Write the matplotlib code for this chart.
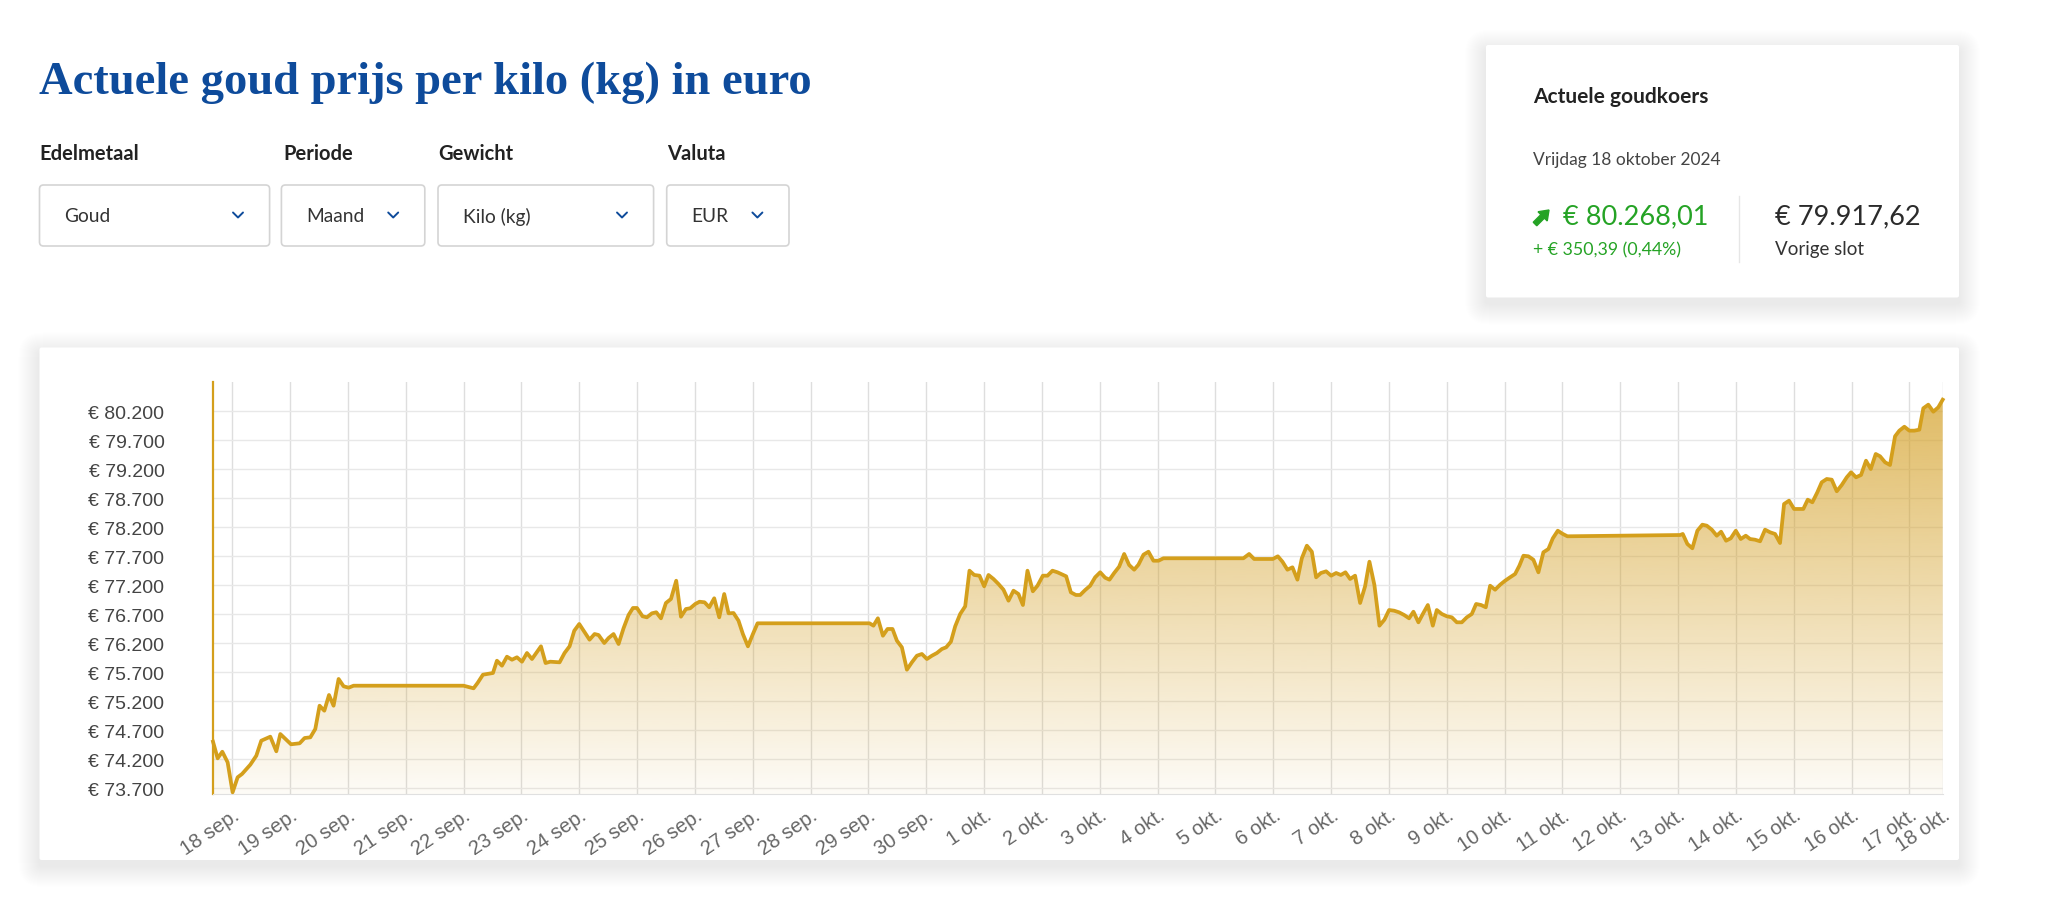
import numpy as np
import matplotlib
matplotlib.use("Agg")
import matplotlib.pyplot as plt
from matplotlib.patches import FancyBboxPatch, Polygon, FancyArrow
from matplotlib.ticker import FixedLocator, FuncFormatter

# ---------------- data ----------------
# x: days after the "18 sep." tick, y: gold price per kg in EUR
days = [-0.334, -0.254, -0.173, -0.081, 0.005, 0.092, 0.168, 0.311, 0.415, 0.501,
        0.657, 0.761, 0.830, 1.015, 1.164, 1.250, 1.349, 1.435, 1.509, 1.591,
        1.672, 1.751, 1.838, 1.924, 2.011, 2.097, 3.999, 4.172, 4.241, 4.334,
        4.507, 4.576, 4.663, 4.749, 4.836, 4.922, 5.009, 5.095, 5.182, 5.337,
        5.417, 5.498, 5.659, 5.745, 5.832, 5.913, 5.999, 6.086, 6.177, 6.264,
        6.333, 6.432, 6.506, 6.592, 6.679, 6.765, 6.852, 6.928, 6.997, 7.094,
        7.169, 7.256, 7.331, 7.412, 7.498, 7.585, 7.676, 7.758, 7.844, 7.918,
        8.005, 8.079, 8.166, 8.247, 8.333, 8.420, 8.506, 8.581, 8.667, 8.753,
        8.829, 8.916, 9.002, 9.082, 11.018, 11.087, 11.163, 11.250, 11.330, 11.416,
        11.492, 11.578, 11.665, 11.751, 11.838, 11.924, 12.011, 12.097, 12.184, 12.270,
        12.344, 12.426, 12.500, 12.586, 12.673, 12.747, 12.829, 12.920, 13.001, 13.076,
        13.162, 13.249, 13.335, 13.422, 13.508, 13.594, 13.671, 13.750, 13.843, 13.923,
        14.016, 14.096, 14.182, 14.269, 14.345, 14.419, 14.500, 14.587, 14.661, 14.748,
        14.834, 14.920, 15.007, 15.093, 15.168, 15.249, 15.335, 15.422, 15.508, 15.595,
        15.669, 15.756, 15.842, 15.928, 16.015, 16.101, 17.484, 17.583, 17.669, 17.993,
        18.079, 18.159, 18.245, 18.332, 18.418, 18.494, 18.581, 18.667, 18.741, 18.823,
        18.914, 19.001, 19.087, 19.168, 19.248, 19.329, 19.415, 19.502, 19.588, 19.663,
        19.749, 19.836, 19.922, 20.003, 20.090, 20.176, 20.263, 20.349, 20.424, 20.510,
        20.586, 20.673, 20.759, 20.828, 20.915, 21.001, 21.087, 21.174, 21.260, 21.347,
        21.433, 21.508, 21.594, 21.675, 21.750, 21.836, 21.923, 22.009, 22.095, 22.182,
        22.256, 22.326, 22.412, 22.498, 22.585, 22.671, 22.758, 22.834, 22.920, 23.007,
        23.086, 25.035, 25.081, 25.161, 25.247, 25.334, 25.420, 25.496, 25.583, 25.669,
        25.744, 25.830, 25.911, 25.998, 26.084, 26.171, 26.245, 26.331, 26.418, 26.504,
        26.591, 26.677, 26.763, 26.833, 26.919, 27.006, 27.166, 27.242, 27.322, 27.408,
        27.484, 27.571, 27.657, 27.744, 27.830, 27.917, 27.991, 28.077, 28.164, 28.250,
        28.332, 28.418, 28.493, 28.579, 28.665, 28.752, 28.826, 28.913, 28.999, 29.085,
        29.172, 29.241, 29.327, 29.414, 29.500, 29.576]

prices = [74504, 74217, 74331, 74148, 73631, 73890, 73947, 74107, 74262, 74521,
          74590, 74338, 74636, 74459, 74476, 74567, 74579, 74723, 75124, 75038,
          75309, 75124, 75585, 75459, 75435, 75469, 75469, 75424, 75516, 75659,
          75688, 75900, 75814, 75969, 75917, 75959, 75883, 76033, 75929, 76148,
          75860, 75883, 75872, 76033, 76148, 76417, 76533, 76400, 76262, 76360,
          76343, 76205, 76291, 76360, 76188, 76459, 76688, 76809, 76809, 76666,
          76648, 76717, 76735, 76631, 76895, 76964, 77279, 76659, 76791, 76804,
          76878, 76917, 76907, 76821, 76976, 76648, 77050, 76717, 76722, 76590,
          76360, 76148, 76360, 76545, 76545, 76504, 76631, 76331, 76447, 76447,
          76245, 76131, 75745, 75872, 75986, 76016, 75929, 75986, 76033, 76102,
          76131, 76228, 76493, 76705, 76838, 77452, 77378, 77366, 77183, 77378,
          77309, 77222, 77124, 76935, 77107, 77050, 76860, 77452, 77097, 77193,
          77366, 77366, 77452, 77424, 77390, 77355, 77079, 77033, 77033, 77119,
          77193, 77338, 77424, 77331, 77297, 77412, 77521, 77740, 77550, 77469,
          77555, 77728, 77779, 77624, 77624, 77666, 77666, 77740, 77654, 77654,
          77700, 77607, 77469, 77510, 77297, 77666, 77883, 77779, 77338, 77412,
          77441, 77366, 77412, 77378, 77424, 77309, 77366, 76895, 77183, 77607,
          77205, 76504, 76607, 76774, 76762, 76734, 76688, 76631, 76745, 76562,
          76705, 76860, 76504, 76774, 76705, 76666, 76648, 76562, 76562, 76648,
          76705, 76878, 76860, 76821, 77193, 77124, 77210, 77279, 77338, 77395,
          77538, 77710, 77700, 77641, 77424, 77769, 77826, 78010, 78141, 78085,
          78045, 78067, 78085, 77912, 77838, 78141, 78245, 78228, 78159, 78055,
          78124, 77969, 78010, 78141, 77998, 78055, 77998, 77986, 77959, 78159,
          78114, 78085, 77929, 78602, 78659, 78516, 78516, 78676, 78631, 78803,
          78976, 79033, 79021, 78821, 78929, 79062, 79148, 79062, 79102, 79348,
          79205, 79464, 79424, 79321, 79274, 79769, 79866, 79934, 79866, 79866,
          79883, 80252, 80314, 80193, 80269, 80400]

tick_labels = ["18 sep.", "19 sep.", "20 sep.", "21 sep.", "22 sep.", "23 sep.",
               "24 sep.", "25 sep.", "26 sep.", "27 sep.", "28 sep.", "29 sep.",
               "30 sep.", "1 okt.", "2 okt.", "3 okt.", "4 okt.", "5 okt.", "6 okt.",
               "7 okt.", "8 okt.", "9 okt.", "10 okt.", "11 okt.", "12 okt.",
               "13 okt.", "14 okt.", "15 okt.", "16 okt.", "17 okt.", "18 okt."]
y_ticks = [73700, 74200, 74700, 75200, 75700, 76200, 76700, 77200,
           77700, 78200, 78700, 79200, 79700, 80200]
y_limits = [73602, 80705]

title = "Actuele goud prijs per kilo (kg) in euro"
filter_labels = ["Edelmetaal", "Periode", "Gewicht", "Valuta"]
filter_values = ["Goud", "Maand", "Kilo (kg)", "EUR"]
card_title = "Actuele goudkoers"
card_date = "Vrijdag 18 oktober 2024"
current_price = "€ 80.268,01"
change_text = "+ € 350,39 (0,44%)"
prev_close = "€ 79.917,62"
prev_label = "Vorige slot"

# ---------------- style ----------------
W, H = 2062, 903
GOLD = "#D49F1C"
GREEN = "#25A325"
BLUE = "#0E4B9B"
SANS = ["Lato", "DejaVu Sans"]
ARIAL = ["Liberation Sans", "DejaVu Sans"]

fig = plt.figure(figsize=(W / 100, H / 100), dpi=100)
fig.patch.set_facecolor("white")

bg = fig.add_axes([0, 0, 1, 1], zorder=0)
bg.set_xlim(0, W)
bg.set_ylim(H, 0)
bg.axis("off")


def card(x0, y0, x1, y1):
    for i in range(1, 22):
        bg.add_patch(FancyBboxPatch((x0 - i, y0 - i + 6), (x1 - x0) + 2 * i, (y1 - y0) + 2 * i,
                                    boxstyle=f"round,pad=0,rounding_size={i + 3}",
                                    fc="#44506e", ec="none", alpha=0.0035, zorder=1))
    bg.add_patch(FancyBboxPatch((x0, y0), x1 - x0, y1 - y0,
                                boxstyle="round,pad=0,rounding_size=2",
                                fc="white", ec="none", zorder=2))


# title
bg.text(39, 94, title, fontsize=33.5, fontweight="bold", family=["Liberation Serif", "DejaVu Serif"],
        color=BLUE, va="baseline", ha="left")

# filters
label_x = [39.5, 283, 438, 667]
box_x = [(39.5, 269.6), (281.4, 424.8), (438, 653.6), (666.7, 789)]
for lab, lx, (bx0, bx1), val in zip(filter_labels, label_x, box_x, filter_values):
    bg.text(lx, 154, lab, fontsize=14.5, fontweight="bold", family=SANS, color="#222222",
            va="center", ha="left")
    bg.add_patch(FancyBboxPatch((bx0, 186), bx1 - bx0, 61, boxstyle="round,pad=0,rounding_size=4",
                                fc="white", ec="#d4d4d4", lw=1.2, zorder=2))
    bg.text(bx0 + 25, 217, val, fontsize=13.8, family=SANS, color="#333333",
            va="center", ha="left", zorder=3)
    cx = bx1 - 31.6
    bg.plot([cx - 5, cx, cx + 5], [213.5, 218.5, 213.5], color=BLUE, lw=1.4, zorder=3,
            solid_capstyle="round", solid_joinstyle="round")

# price card
card(1486, 46, 1959, 298.5)
bg.text(1533, 97, card_title, fontsize=15, fontweight="bold", family=SANS, color="#222222",
        va="center", ha="left", zorder=3)
bg.text(1533, 160, card_date, fontsize=12.5, family=SANS, color="#444444",
        va="center", ha="left", zorder=3)
bg.add_patch(FancyArrow(1535, 225, 14, -14, width=5, head_width=13, head_length=9,
                        length_includes_head=True, color=GREEN, zorder=3))
bg.text(1563, 217, current_price, fontsize=19.5, family=SANS, color=GREEN,
        va="center", ha="left", zorder=3)
bg.text(1533, 250, change_text, fontsize=12.8, family=SANS, color=GREEN,
        va="center", ha="left", zorder=3)
bg.plot([1738.5, 1738.5], [197, 263], color="#e6e6e6", lw=1, zorder=3)
bg.text(1775, 217, prev_close, fontsize=19.5, family=SANS, color="#2b2b2b",
        va="center", ha="left", zorder=3)
bg.text(1775, 250, prev_label, fontsize=13.5, family=SANS, color="#333333",
        va="center", ha="left", zorder=3)

# chart card
card(39.5, 348.5, 1959, 861)

# ---------------- chart ----------------
px0, px1, py0, py1 = 213, 1942.7, 383, 795
ax = fig.add_axes([px0 / W, 1 - py1 / H, (px1 - px0) / W, (py1 - py0) / H], zorder=2)
ax.set_facecolor("white")
ax.set_xlim(days[0], days[-1])
ax.set_ylim(*y_limits)

# gradient fill under the line
verts = [(days[0], y_limits[0])] + list(zip(days, prices)) + [(days[-1], y_limits[0])]
poly = Polygon(verts, closed=True, fc="none", ec="none")
ax.add_patch(poly)
n = 256
grad = np.zeros((n, 1, 4))
grad[:, 0, 0] = 212 / 255
grad[:, 0, 1] = 160 / 255
grad[:, 0, 2] = 38 / 255
grad[:, 0, 3] = np.linspace(0.74, 0.04, n)
im = ax.imshow(grad, extent=[days[0], days[-1], y_limits[0], y_limits[1]],
               aspect="auto", origin="upper", zorder=1, interpolation="bilinear")
im.set_clip_path(poly)

ax.plot(days, prices, color=GOLD, lw=2.7, solid_joinstyle="round", zorder=4, clip_on=False)

# ticks & grid
tick_pos = list(range(len(tick_labels) - 1)) + [days[-1]]
ax.xaxis.set_major_locator(FixedLocator(tick_pos))
ax.set_xticklabels(tick_labels)
ax.yaxis.set_major_locator(FixedLocator(y_ticks))
ax.yaxis.set_major_formatter(FuncFormatter(lambda v, p: "€ " + f"{int(round(v)):,}".replace(",", ".")))
ax.xaxis.grid(True, color="#dedede", lw=1, zorder=0)
ax.yaxis.grid(True, color="#e8e8e8", lw=1, zorder=0)
ax.set_axisbelow(True)
ax.tick_params(axis="y", length=0, pad=35, labelsize=14, labelcolor="#444444")
ax.tick_params(axis="x", length=0, pad=8, labelsize=14.5, labelcolor="#666666")
for lab in ax.get_yticklabels():
    lab.set_family(ARIAL)
for lab in ax.get_xticklabels():
    lab.set_family(ARIAL)
    lab.set_rotation(34)
    lab.set_ha("right")
    lab.set_va("top")
    lab.set_rotation_mode("anchor")

for s in ["top", "right"]:
    ax.spines[s].set_visible(False)
ax.spines["bottom"].set_color("#e0e0e0")
ax.spines["left"].set_color(GOLD)
ax.spines["left"].set_linewidth(1.6)

fig.savefig("out.png", dpi=100, facecolor="white")
